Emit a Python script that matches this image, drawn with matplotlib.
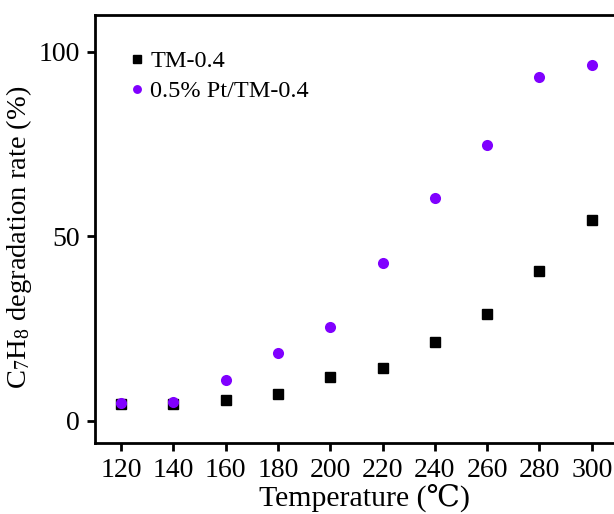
import matplotlib
matplotlib.use("Agg")
import matplotlib.pyplot as plt

temperature = [120, 140, 160, 180, 200, 220, 240, 260, 280, 300]
tm04 = [4.5, 4.5, 5.6, 7.2, 11.8, 14.3, 21.3, 28.9, 40.5, 54.5]
pt_tm04 = [4.8, 5.1, 11.0, 18.3, 25.4, 42.7, 60.5, 74.8, 93.2, 96.5]
x_ticks = [120, 140, 160, 180, 200, 220, 240, 260, 280, 300]
y_ticks = [0, 50, 100]

plt.rcParams['font.family'] = ['Liberation Serif', 'DejaVu Serif']
plt.rcParams['mathtext.fontset'] = 'custom'
plt.rcParams['mathtext.rm'] = 'Liberation Serif'
plt.rcParams['mathtext.it'] = 'Liberation Serif:italic'

fig = plt.figure(figsize=(6.14, 5.14), dpi=100)
ax = fig.add_axes([95/614, 1-443/514, 1-95/614, (443-15)/514])

ax.plot(temperature, tm04, linestyle='none', marker='s', markersize=7,
        color='black', label='TM-0.4')
ax.plot(temperature, pt_tm04, linestyle='none', marker='o', markersize=8,
        color='#8000FF', markeredgewidth=0, label='0.5% Pt/TM-0.4')

ax.set_xlim(110, 308.5)
ax.set_ylim(-6, 110)
ax.set_xticks(x_ticks)
ax.set_yticks(y_ticks)
ax.tick_params(direction='out', length=6, width=2, labelsize=20, pad=5)
for s in ['left', 'bottom', 'top']:
    ax.spines[s].set_linewidth(2)
ax.spines['right'].set_visible(False)

ax.set_xlabel('Temperature (\u2103)', fontsize=21.5, labelpad=0)
ax.xaxis.label.set_x(0.52)
ax.set_ylabel('C$_7$H$_8$ degradation rate (%)', fontsize=20.5, labelpad=3)
ax.yaxis.label.set_y(0.48)

leg = ax.legend(loc='upper left', frameon=False, fontsize=17.5, handlelength=0.4,
                handletextpad=0.35, labelspacing=0.33, borderaxespad=0.0,
                markerscale=0.8, bbox_to_anchor=(0.053, 0.94))

fig.savefig('out.png', dpi=100)
